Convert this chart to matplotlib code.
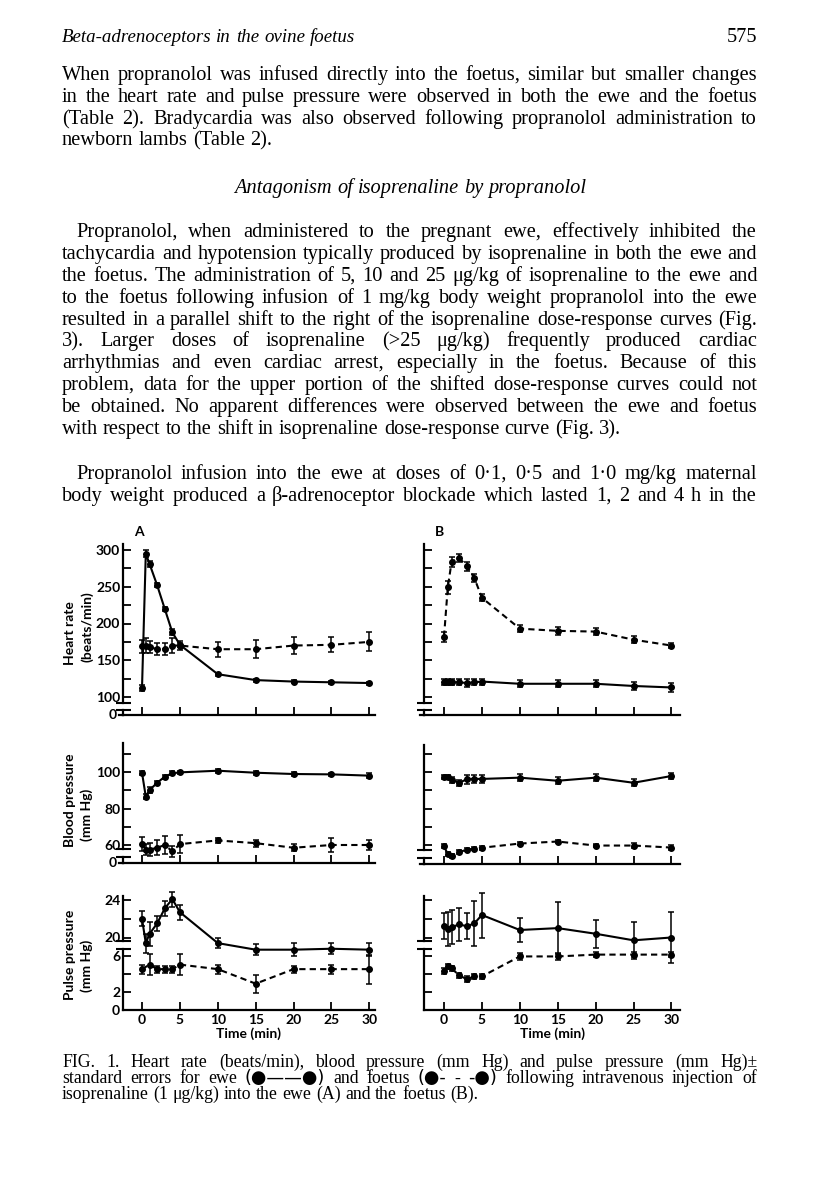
import math
import matplotlib
matplotlib.use('Agg')
import matplotlib.pyplot as plt
from matplotlib.font_manager import FontProperties
from matplotlib import transforms
from matplotlib.backends.backend_agg import get_hinting_flag

# ---------------- data ----------------
time_min = [0, 0.5, 1, 2, 3, 4, 5, 10, 15, 20, 25, 30]
x_ticks = [0, 5, 10, 15, 20, 25, 30]

# Panel A (injection into the ewe)
hr_A_ewe = [112, 295, 281, 252, 220, 188, 171, 131, 123, 121, 120, 119]
hr_A_ewe_se = [4, 5, 4, 3, 3, 4, 3, 2, 2, 2, 2, 2]
hr_A_foetus = [169, 170, 168, 165, 165, 170, 170, 165, 165, 170, 171, 175]
hr_A_foetus_se = [9, 10, 8, 8, 8, 10, 6, 10, 12, 11, 10, 13]

bp_A_ewe = [99.6, 86.5, 90.1, 94.1, 97.4, 99.3, 99.8, 100.7, 99.6, 98.9, 98.7, 98.0]
bp_A_ewe_se = [1, 1.5, 1.5, 1.2, 1.2, 1, 1, 1, 1, 1, 1, 1.5]
bp_A_foetus = [60.5, 57.5, 57.5, 58.5, 60.0, 56.5, 60.5, 62.5, 61.0, 58.5, 60.0, 60.0]
bp_A_foetus_se = [4, 3, 3.5, 4, 5, 3, 5, 1.5, 2, 2, 4, 3]

pp_A_ewe = [22.0, 19.4, 20.4, 21.5, 23.1, 24.1, 22.7, 19.4, 18.7, 18.7, 18.8, 18.7]
pp_A_ewe_se = [0.8, 1.0, 1.3, 0.8, 0.8, 0.8, 0.8, 0.5, 0.6, 0.7, 0.6, 0.7]
pp_A_foetus_time = [0, 1, 2, 3, 4, 5, 10, 15, 20, 25, 30]
pp_A_foetus = [4.5, 5.0, 4.5, 4.5, 4.5, 5.0, 4.5, 2.9, 4.5, 4.5, 4.5]
pp_A_foetus_se = [0.5, 1.2, 0.4, 0.4, 0.4, 1.2, 0.5, 1.0, 0.4, 0.5, 1.6]

# Panel B (injection into the foetus)
hr_B_ewe = [120, 120, 120, 120, 119, 120, 121, 118, 118, 118, 115, 113]
hr_B_ewe_se = [4, 4, 4, 4, 5, 4, 4, 5, 5, 5, 5, 6]
hr_B_foetus = [182, 249, 284, 289, 278, 262, 235, 193, 190, 189, 178, 170]
hr_B_foetus_se = [7, 9, 7, 5, 6, 5, 5, 5, 5, 5, 5, 4]

bp_B_ewe = [97.4, 97.2, 95.6, 94.1, 96.0, 96.2, 96.2, 96.9, 95.2, 96.9, 94.1, 97.8]
bp_B_ewe_se = [1, 1, 1.5, 1.5, 2.5, 2, 2, 2, 2, 1.8, 2, 1.5]
bp_B_foetus = [59.3, 55.0, 54.0, 56.0, 57.5, 58.0, 58.5, 60.8, 61.9, 59.7, 59.7, 58.6]
bp_B_foetus_se = [1, 1, 1, 1, 1, 1, 1, 1, 1, 1, 1.5, 1.5]

pp_B_ewe = [21.2, 20.9, 21.1, 21.4, 21.2, 21.5, 22.4, 20.8, 21.0, 20.4, 19.7, 20.0]
pp_B_ewe_se = [1.4, 1.8, 1.8, 1.8, 1.4, 2.4, 2.4, 1.3, 2.8, 1.5, 2.0, 2.7]
pp_B_foetus = [4.3, 4.8, 4.6, 3.8, 3.4, 3.7, 3.7, 5.9, 5.9, 6.1, 6.1, 6.1]
pp_B_foetus_se = [0.3, 0.3, 0.3, 0.3, 0.3, 0.3, 0.3, 0.4, 0.4, 0.3, 0.3, 0.3]

# ---------------- text ----------------
header_left = "Beta-adrenoceptors in the ovine foetus"
header_right = "575"
para1 = ["When propranolol was infused directly into the foetus, similar but smaller changes",
         "in the heart rate and pulse pressure were observed in both the ewe and the foetus",
         "(Table 2).  Bradycardia was also observed following propranolol administration to",
         "newborn lambs (Table 2)."]
heading = "Antagonism of isoprenaline by propranolol"
para2 = ["Propranolol, when administered to the pregnant ewe, effectively inhibited the",
         "tachycardia and hypotension typically produced by isoprenaline in both the ewe and",
         "the foetus.  The administration of 5, 10 and 25 \u03bcg/kg of isoprenaline to the ewe and",
         "to the foetus following infusion of 1 mg/kg body weight propranolol into the ewe",
         "resulted in a parallel shift to the right of the isoprenaline dose-response curves (Fig.",
         "3).  Larger doses of isoprenaline (>25 \u03bcg/kg) frequently produced cardiac",
         "arrhythmias and even cardiac arrest, especially in the foetus.  Because of this",
         "problem, data for the upper portion of the shifted dose-response curves could not",
         "be obtained.  No apparent differences were observed between the ewe and foetus",
         "with respect to the shift in isoprenaline dose-response curve (Fig. 3)."]
para3 = ["Propranolol infusion into the ewe at doses of 0\u00b71, 0\u00b75 and 1\u00b70 mg/kg maternal",
         "body weight produced a \u03b2-adrenoceptor blockade which lasted 1, 2 and 4 h in the"]
caption = ["FIG. 1.  Heart rate (beats/min), blood pressure (mm Hg) and pulse pressure (mm Hg)\u00b1",
           "standard errors for ewe (\u25cf\u2014\u2014\u25cf) and foetus (\u25cf- - -\u25cf) following intravenous injection of",
           "isoprenaline (1 \u03bcg/kg) into the ewe (A) and the foetus (B)."]

# ---------------- figure ----------------
W, H = 816, 1183
fig = plt.figure(figsize=(W / 100, H / 100), dpi=100)
fig.patch.set_facecolor('white')
renderer = fig.canvas.get_renderer()


def fx(px):
    return px / W


def fy(py):
    return 1 - py / H


SANS = 'Lato'
SERIF = 'Liberation Serif'
tick_fp = dict(family=SANS, weight='bold', size=10)


def text_w(s, fp):
    t = fig.text(0.5, 0.5, s, fontproperties=fp)
    w = t.get_window_extent(renderer).width
    t.remove()
    return w


def baseline_for(word, fp, target_row):
    """Pixel y (from top) to pass so that the rasterised baseline of `word`
    lands exactly on `target_row` (compensates Agg bitmap rounding)."""
    try:
        font = renderer._prepare_font(fp)
        font.set_text(word, 0, flags=get_hinting_flag())
        _, hh = font.get_width_height()
        desc = font.get_descent()
        b = -desc / 64.0
        a = (hh - desc) / 64.0
        k = math.floor(a - b) - math.floor(a)
        return target_row + k + b
    except Exception:
        return target_row


def word_fp(word, fp, fp_sym):
    return fp_sym if (fp_sym is not None and '\u25cf' in word) else fp


def put_line(s, y_base, x0, x1, fp, justify=True, fp_sym=None):
    words = s.split()
    fps = [word_fp(w, fp, fp_sym) for w in words]
    widths = [text_w(w, f) for w, f in zip(words, fps)]
    sp = text_w('n n', fp) - text_w('nn', fp)
    if justify and len(words) > 1:
        gap = (x1 - x0 - sum(widths)) / (len(words) - 1)
    else:
        gap = sp
    x = x0
    row = int(round(y_base))
    for w, f, wd in zip(words, fps, widths):
        yb = baseline_for(w, f, row)
        fig.text(fx(round(x)), fy(yb), w, fontproperties=f, va='baseline', ha='left')
        x += wd + gap


X0, X1 = 62, 757
nat = text_w(para2[1], FontProperties(family=SERIF, size=10))
body_size = 10 * (X1 - X0) * 0.985 / nat
body_fp = FontProperties(family=SERIF, size=body_size)
ital_fp = FontProperties(family=SERIF, style='italic', size=body_size)
head_fp = FontProperties(family=SERIF, style='italic', size=body_size * 0.93)

# running head
put_line(header_left, 42, X0, X1, head_fp, justify=False)
fig.text(fx(X1), fy(baseline_for(header_right, body_fp, 42)), header_right,
         fontproperties=body_fp, va='baseline', ha='right')

for i, line in enumerate(para1):
    put_line(line, 80 + 21.8 * i, X0, X1, body_fp, justify=(i < len(para1) - 1))
head_w = text_w(heading, ital_fp)
put_line(heading, 193, 410 - head_w / 2, 410 + head_w / 2, ital_fp, justify=False)
INDENT = 14
for i, line in enumerate(para2):
    put_line(line, 237 + 21.9 * i, X0 + (INDENT if i == 0 else 0), X1, body_fp,
             justify=(i < len(para2) - 1))
for i, line in enumerate(para3):
    put_line(line, 479 + 21.9 * i, X0 + (INDENT if i == 0 else 0), X1, body_fp, justify=True)

cap_nat = text_w(caption[0], FontProperties(family=SERIF, size=10))
cap_size = 10 * (X1 - X0) * 0.88 / cap_nat
cap_fp = FontProperties(family=SERIF, size=cap_size)
cap_sym_fp = FontProperties(family='DejaVu Sans', size=cap_size)
for i, line in enumerate(caption):
    put_line(line, 1067 + 15.8 * i, X0, X1, cap_fp, justify=(i < 2), fp_sym=cap_sym_fp)

# ---------------- chart panels ----------------
LW = 1.5
EW = 1.1


def make_ax(l, r, t, b, xlim, ylim, sharex=None):
    ax = fig.add_axes([fx(l), fy(b), (r - l) / W, (b - t) / H], sharex=sharex)
    ax.set_xlim(*xlim)
    ax.set_ylim(*ylim)
    ax.patch.set_visible(False)
    for s in ['top', 'right']:
        ax.spines[s].set_visible(False)
    for s in ['left', 'bottom']:
        ax.spines[s].set_linewidth(1.6)
    ax.tick_params(axis='both', direction='in', length=6, width=1.3, pad=2)
    return ax


def series(ax, t, y, e, dashed):
    ls = (0, (3, 2)) if dashed else '-'
    ax.errorbar(t, y, yerr=e, fmt='o', ls=ls, color='black', lw=LW, ms=4,
                elinewidth=EW, capsize=2.5, capthick=EW, clip_on=False)


def break_mark(ax, yv, w_px, left=7, right=8):
    tr = transforms.blended_transform_factory(ax.transAxes, ax.transData)
    ax.plot([-left / w_px, right / w_px], [yv, yv], color='black', lw=1.5,
            transform=tr, clip_on=False, solid_capstyle='butt')


def set_ticklabels_font(ax):
    for lab in ax.get_yticklabels() + ax.get_xticklabels():
        lab.set_fontfamily(SANS)
        lab.set_fontweight('bold')
        lab.set_fontsize(10)


columns = {
    'A': dict(l=123, r=375, x0px=142, labels=True),
    'B': dict(l=424, r=680, x0px=444, labels=False),
}
PX_PER_MIN = 7.58

hr_data = {'A': (hr_A_ewe, hr_A_ewe_se, hr_A_foetus, hr_A_foetus_se),
           'B': (hr_B_ewe, hr_B_ewe_se, hr_B_foetus, hr_B_foetus_se)}
bp_data = {'A': (bp_A_ewe, bp_A_ewe_se, bp_A_foetus, bp_A_foetus_se),
           'B': (bp_B_ewe, bp_B_ewe_se, bp_B_foetus, bp_B_foetus_se)}

for key, c in columns.items():
    l, r = c['l'], c['r']
    w_px = r - l
    xlim = ((l - c['x0px']) / PX_PER_MIN, (r - c['x0px']) / PX_PER_MIN)

    # ---- heart rate ----
    k = 36.75 / 50.0
    top, bot, y100, y300 = 544, 715, 697, 550
    ylim = (100 - (bot - y100) / k, 300 + (y300 - top) / k)
    ax = make_ax(l, r, top, bot, xlim, ylim)
    ax.set_yticks([100, 125, 150, 175, 200, 225, 250, 275, 300])
    ax.set_xticks(x_ticks)
    ax.set_xticklabels([])
    if c['labels']:
        ax.set_yticklabels(['100', '', '150', '', '200', '', '250', '', '300'])
    else:
        ax.set_yticklabels([])
    set_ticklabels_font(ax)
    ub = 100 - (703 - y100) / k
    lb = 100 - (710 - y100) / k
    ax.spines['left'].set_bounds(ub, ylim[1])
    tr = transforms.blended_transform_factory(ax.transAxes, ax.transData)
    ax.plot([0, 0], [ylim[0], lb], color='black', lw=1.6, transform=tr, clip_on=False)
    break_mark(ax, ub, w_px)
    break_mark(ax, lb, w_px)
    ax.plot([-4 / w_px, 0], [ylim[0], ylim[0]], color='black', lw=1.6, transform=tr, clip_on=False)
    e, es, f, fs = hr_data[key]
    series(ax, time_min, e, es, False)
    series(ax, time_min, f, fs, True)
    if c['labels']:
        ax.text(-6 / w_px, ylim[0], '0', transform=tr, ha='right', va='center', **tick_fp)
        fig.text(fx(139), fy(532), 'A', ha='center', va='center', **tick_fp)
    else:
        fig.text(fx(439), fy(532), 'B', ha='center', va='center', **tick_fp)

    # ---- blood pressure ----
    k = 1.825
    top = 743 if key == 'A' else 745
    bot = 863 if key == 'A' else 864
    y100 = 772
    ylim = (100 - (bot - y100) / k, 100 + (y100 - top) / k)
    ax = make_ax(l, r, top, bot, xlim, ylim)
    ax.set_yticks([60, 70, 80, 90, 100, 110])
    ax.set_xticks(x_ticks)
    ax.set_xticklabels([])
    if c['labels']:
        ax.set_yticklabels(['60', '', '80', '', '100', ''])
    else:
        ax.set_yticklabels([])
    set_ticklabels_font(ax)
    ub = 100 - ((bot - 14) - y100) / k
    lb = 100 - ((bot - 6) - y100) / k
    ax.spines['left'].set_bounds(ub, ylim[1])
    tr = transforms.blended_transform_factory(ax.transAxes, ax.transData)
    ax.plot([0, 0], [ylim[0], lb], color='black', lw=1.6, transform=tr, clip_on=False)
    break_mark(ax, ub, w_px)
    break_mark(ax, lb, w_px)
    ax.plot([-4 / w_px, 0], [ylim[0], ylim[0]], color='black', lw=1.6, transform=tr, clip_on=False)
    e, es, f, fs = bp_data[key]
    series(ax, time_min, e, es, False)
    series(ax, time_min, f, fs, True)
    if c['labels']:
        ax.text(-6 / w_px, ylim[0], '0', transform=tr, ha='right', va='center', **tick_fp)

    # ---- pulse pressure (two scales) ----
    top, bot = 895.5, 1010
    ku, y24 = 9.375, 900
    kl, y6 = 9.08, 955.5
    ylim_u = (24 - (bot - y24) / ku, 24 + (y24 - top) / ku)
    ylim_l = (0, (bot - top) / kl)
    axu = make_ax(l, r, top, bot, xlim, ylim_u)
    axl = make_ax(l, r, top, bot, xlim, ylim_l, sharex=axu)
    axu.set_yticks([20, 22, 24])
    axl.set_yticks([0, 2, 4, 6])
    axu.set_xticks(x_ticks)
    axu.set_xticklabels([str(v) for v in x_ticks])
    axl.tick_params(axis='x', which='both', bottom=False, labelbottom=False)
    axl.spines['bottom'].set_visible(False)
    if c['labels']:
        axu.set_yticklabels(['20', '', '24'])
        axl.set_yticklabels(['0', '2', '', '6'])
    else:
        axu.set_yticklabels([])
        axl.set_yticklabels([])
    set_ticklabels_font(axu)
    set_ticklabels_font(axl)
    axu.tick_params(axis='x', pad=3)
    ub = 24 - (941 - y24) / ku
    lb = (bot - 949) / kl
    axu.spines['left'].set_bounds(ub, ylim_u[1])
    axl.spines['left'].set_bounds(0, lb)
    break_mark(axu, ub, w_px)
    break_mark(axl, lb, w_px)
    e, es = (pp_A_ewe, pp_A_ewe_se) if key == 'A' else (pp_B_ewe, pp_B_ewe_se)
    series(axu, time_min, e, es, False)
    if key == 'A':
        series(axl, pp_A_foetus_time, pp_A_foetus, pp_A_foetus_se, True)
    else:
        series(axl, time_min, pp_B_foetus, pp_B_foetus_se, True)
    axu.set_xlabel('Time (min)', fontfamily=SANS, fontweight='bold', fontsize=10, labelpad=1)

# y-axis titles (panel A only)
lab_kw = dict(rotation=90, ha='center', va='center', family=SANS, weight='bold', size=10)
fig.text(fx(70), fy(633), 'Heart rate', **lab_kw)
fig.text(fx(87), fy(627), '(beats/min)', **lab_kw)
fig.text(fx(70), fy(800), 'Blood pressure', **lab_kw)
fig.text(fx(87), fy(815), '(mm Hg)', **lab_kw)
fig.text(fx(70), fy(955), 'Pulse pressure', **lab_kw)
fig.text(fx(87), fy(966), '(mm Hg)', **lab_kw)

fig.savefig('out.png', dpi=100, facecolor='white')
